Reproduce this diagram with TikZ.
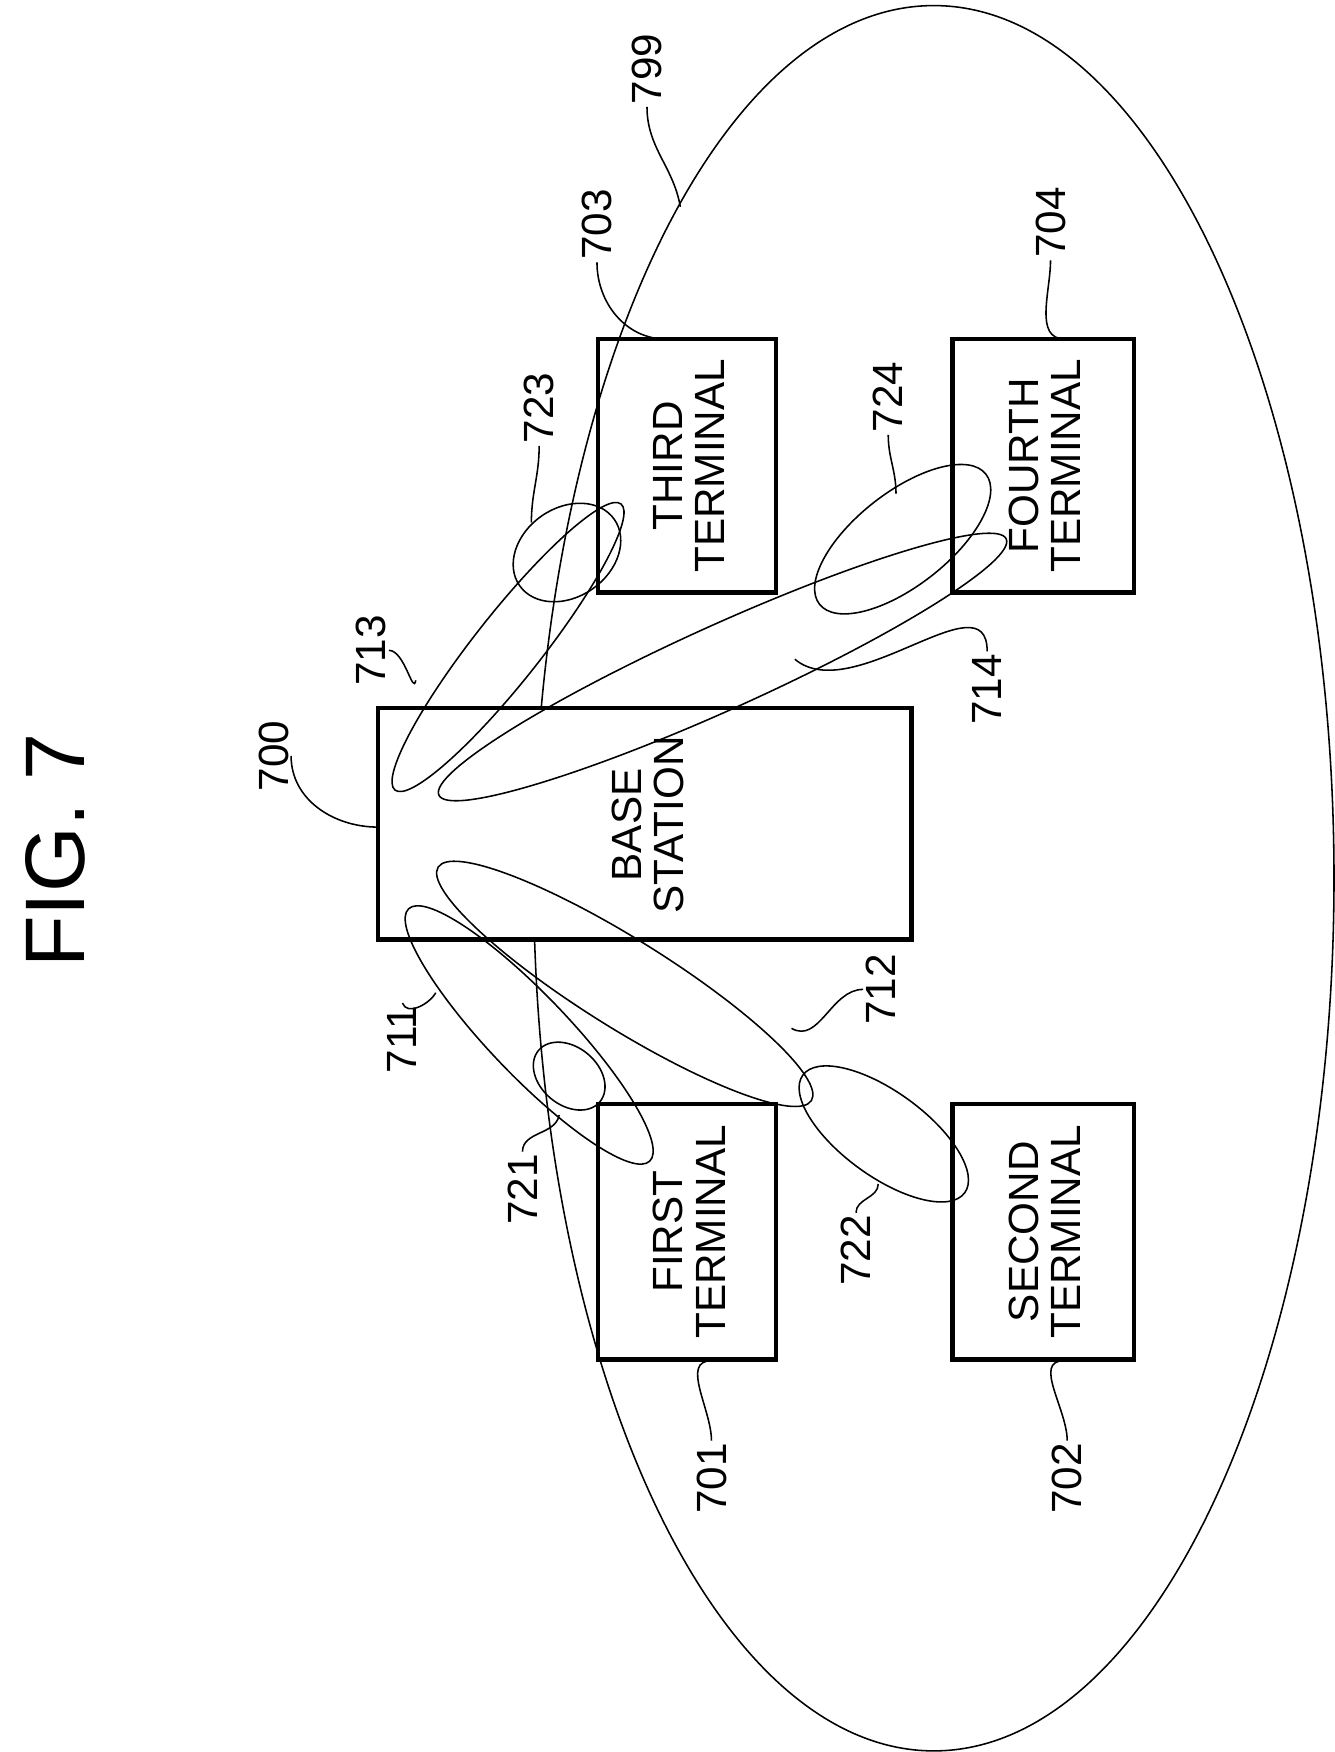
\documentclass[tikz,border=0pt]{standalone}
\usepackage{fontspec}
\setmainfont{Liberation Sans}
\begin{document}
\begin{tikzpicture}[x=0.5pt,y=-0.5pt,
  lbl/.style={rotate=90,font=\fontsize{19}{19}\selectfont,inner sep=1pt},
  txt/.style={rotate=90,font=\fontsize{19}{19}\selectfont,align=center},
  boxl/.style={line width=2pt},
  thin/.style={line width=0.7pt},
  lead/.style={line width=0.7pt}]
\useasboundingbox (0,0) rectangle (1200,1576);
\node[rotate=90,font=\fontsize{38}{38}\selectfont] (fig) at (50,765) {FIG. 7};
% area ellipse
\coordinate (c799) at (840,790);
\draw[thin] (c799) ellipse [x radius=360,y radius=785];
% boxes
\draw[boxl,fill=white] (340,637) rectangle (820,845);
\node[txt] (bs) at (583,742) {BASE\\STATION};
\draw[boxl] (538,305) rectangle (698,533);
\node[txt] (t3) at (620,419) {THIRD\\TERMINAL};
\draw[boxl] (857,305) rectangle (1020,533);
\node[txt] (t4) at (940,419) {FOURTH\\TERMINAL};
\draw[boxl] (538,993) rectangle (698,1223);
\node[txt] (t1) at (620,1108) {FIRST\\TERMINAL};
\draw[boxl] (857,993) rectangle (1020,1223);
\node[txt] (t2) at (940,1108) {SECOND\\TERMINAL};
% beams
\coordinate (c713) at (457,582);
\draw[thin,rotate around={51.7:(c713)}] (c713) ellipse [x radius=164,y radius=30];
\coordinate (c714) at (650,600);
\draw[thin,rotate around={24.3:(c714)}] (c714) ellipse [x radius=280,y radius=38];
\coordinate (c711) at (476,931);
\draw[thin,rotate around={-46.3:(c711)}] (c711) ellipse [x radius=157,y radius=36];
\coordinate (c712) at (562,885);
\draw[thin,rotate around={-32:(c712)}] (c712) ellipse [x radius=198,y radius=40];
\coordinate (c721) at (512,968);
\draw[thin,rotate around={-40:(c721)}] (c721) ellipse [x radius=36,y radius=26];
\coordinate (c722) at (795,1020);
\draw[thin,rotate around={-36:(c722)}] (c722) ellipse [x radius=90,y radius=38];
\coordinate (c723) at (510,497);
\draw[thin,rotate around={35:(c723)}] (c723) ellipse [x radius=52,y radius=40];
\coordinate (c724) at (812,485);
\draw[thin,rotate around={38:(c724)}] (c724) ellipse [x radius=95,y radius=42];
% labels
\node[lbl] (l700) at (246,680) {700};
\node[lbl] (l713) at (334,585) {713};
\node[lbl] (l723) at (485,367) {723};
\node[lbl] (l703) at (537,202) {703};
\node[lbl] (l799) at (582,62) {799};
\node[lbl] (l724) at (799,357) {724};
\node[lbl] (l704) at (945,200) {704};
\node[lbl] (l714) at (888,620) {714};
\node[lbl] (l711) at (362,935) {711};
\node[lbl] (l712) at (792,890) {712};
\node[lbl] (l721) at (470,1070) {721};
\node[lbl] (l722) at (770,1125) {722};
\node[lbl] (l701) at (640,1330) {701};
\node[lbl] (l702) at (960,1330) {702};
% leader ends
\coordinate (e700) at (340,744);
\coordinate (e713) at (374,612);
\coordinate (e723) at (478,470);
\coordinate (e703) at (599,305);
\coordinate (e799) at (612,186);
\coordinate (e724) at (806,444);
\coordinate (e704) at (958,305);
\coordinate (e714) at (715,593);
\coordinate (e711) at (392,893);
\coordinate (e712) at (712,925);
\coordinate (e721) at (503,1003);
\coordinate (e722) at (790,1065);
\coordinate (e701) at (640,1224);
\coordinate (e702) at (957,1224);
\draw[lead] (l700.south) to[out=-90,in=180] (e700);
\draw[lead] (l713.south) to[out=0,in=-100] (e713);
\draw[lead] (l723.west) to[out=-90,in=90] (e723);
\draw[lead] (l703.west) to[out=-90,in=180] (e703);
\draw[lead] (l799.west) to[out=-90,in=100] (e799);
\draw[lead] (l724.west) to[out=-90,in=90] (e724);
\draw[lead] (l704.west) to[out=-90,in=180] (e704);
\draw[lead] (l714.east) to[out=90,in=-40] (e714);
\draw[lead] (l711.east) to[out=-70,in=-120] (e711);
\draw[lead] (l712.north) to[out=180,in=-30] (e712);
\draw[lead] (l721.east) to[out=90,in=-100] (e721);
\draw[lead] (l722.east) to[out=90,in=-90] (e722);
\draw[lead] (l701.east) to[out=90,in=180] (e701);
\draw[lead] (l702.east) to[out=90,in=180] (e702);
\end{tikzpicture}
\end{document}
